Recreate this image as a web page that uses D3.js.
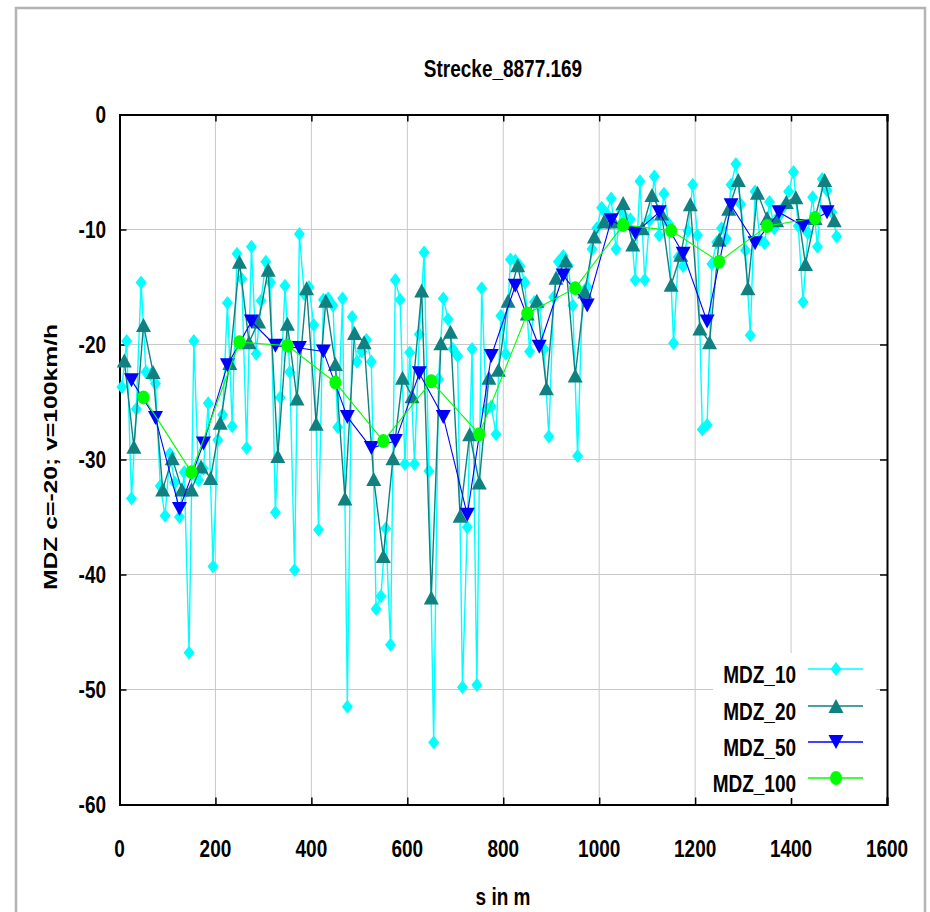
<!DOCTYPE html>
<html><head><meta charset="utf-8">
<script src="https://cdn.jsdelivr.net/npm/d3@7"></script>
<style>body{margin:0;background:#fff}svg text{font-family:"Liberation Sans",Arial,sans-serif;font-weight:bold;fill:#000}</style>
</head><body><svg id="c" width="930" height="912"></svg>
<script>
const title = "Strecke_8877.169";
const xLabel = "s in m";
const yLabel = "MDZ c=-20; v=100km/h";
const xTicks = [0,200,400,600,800,1000,1200,1400,1600];
const yTicks = [0,-10,-20,-30,-40,-50,-60];
const seriesNames = ["MDZ_10","MDZ_20","MDZ_50","MDZ_100"];

const dist10 = d3.range(5, 1500, 10);
const mdz10 = [-23.7,-19.7,-33.4,-25.6,-14.6,-22.4,-22.6,-23.4,-32.3,-34.9,
 -29.5,-32.0,-35.0,-31.1,-46.8,-19.7,-31.8,-30.8,-25.1,-39.3,
 -28.3,-26.1,-16.4,-27.1,-12.1,-14.3,-29.0,-11.5,-20.8,-16.2,
 -12.8,-14.6,-34.6,-24.6,-14.9,-22.4,-39.6,-10.4,-15.6,-15.0,
 -18.3,-36.1,-16.1,-16.0,-16.6,-27.2,-16.0,-51.5,-17.6,-21.5,
 -20.6,-19.6,-21.5,-43.0,-41.9,-36.0,-46.1,-14.4,-16.1,-30.4,
 -20.7,-30.4,-19.1,-12.0,-31.0,-54.6,-23.0,-16.0,-17.8,-20.4,
 -21.0,-49.8,-35.9,-20.4,-49.6,-15.1,-25.6,-25.4,-27.8,-17.5,
 -20.8,-12.6,-12.7,-13.2,-14.6,-20.6,-16.3,-16.6,-20.4,-28.0,
 -15.9,-12.8,-12.3,-13.1,-16.6,-29.7,-15.6,-15.0,-11.7,-9.9,
 -8.1,-8.6,-7.3,-11.7,-8.3,-9.0,-9.1,-14.4,-5.8,-14.4,
 -9.2,-5.4,-10.5,-6.9,-9.5,-19.9,-12.4,-13.2,-10.1,-6.1,
 -10.5,-27.4,-27.0,-13.0,-11.1,-9.9,-10.8,-6.1,-4.3,-7.8,
 -11.8,-19.2,-6.7,-10.9,-11.2,-7.6,-9.9,-8.8,-8.0,-6.7,
 -5.0,-9.7,-16.3,-10.3,-7.2,-11.5,-5.6,-6.6,-8.5,-10.6];

const dist20 = d3.range(10, 1500, 20);
const mdz20 = [-21.4,-28.9,-18.3,-22.4,-32.6,-29.9,-32.6,-32.6,-30.6,-31.6,
 -26.8,-21.6,-12.8,-19.8,-18.0,-13.5,-29.7,-18.2,-24.7,-15.1,
 -26.9,-16.2,-21.7,-33.4,-19.0,-19.8,-31.7,-38.4,-29.9,-22.9,
 -24.5,-15.3,-42.0,-19.9,-18.9,-34.9,-27.8,-32.0,-22.9,-22.2,
 -16.2,-13.1,-17.3,-16.2,-23.8,-14.2,-12.7,-22.7,-15.4,-10.6,
 -9.3,-9.3,-7.7,-11.3,-9.9,-7.0,-8.6,-14.8,-12.2,-7.8,
 -18.6,-19.8,-10.9,-8.2,-5.7,-15.1,-6.8,-9.0,-9.2,-7.6,
 -7.2,-13.0,-9.0,-5.7,-9.2];

const dist50 = d3.range(25, 1500, 50);
const mdz50 = [-23.1,-26.4,-34.3,-28.6,-21.8,-18.0,-20.1,-20.3,-20.6,-26.3,
 -29.0,-28.4,-22.5,-26.3,-34.8,-21.0,-14.9,-20.2,-14.0,-16.6,
 -9.2,-10.3,-8.5,-12.1,-18.0,-7.9,-11.2,-8.5,-9.7,-8.5];

const dist100 = d3.range(50, 1500, 100);
const mdz100 = [-24.6,-31.1,-19.8,-20.1,-23.3,-28.4,-23.2,-27.8,-17.3,-15.1,
 -9.6,-10.1,-12.8,-9.7,-9.0];

const svg = d3.select("#c");
const L = 119.5, R = 887, T = 114.5, B = 804.5;
const x = d3.scaleLinear().domain([0,1600]).range([L,R]);
const y = d3.scaleLinear().domain([0,-60]).range([T,B]);
const SY = 1.3;

// outer frame
svg.append("rect").attr("x",16).attr("y",8).attr("width",909).attr("height",915)
  .attr("fill","#fff").attr("stroke","#b4b4b4").attr("stroke-width",2.5);

// grid
const grid = svg.append("g").attr("stroke","#c8c8c8").attr("stroke-width",1);
xTicks.slice(1,-1).forEach(t=>grid.append("line").attr("x1",x(t)).attr("x2",x(t)).attr("y1",T).attr("y2",B));
yTicks.slice(1,-1).forEach(t=>grid.append("line").attr("x1",L).attr("x2",R).attr("y1",y(t)).attr("y2",y(t)));

// axes ticks (inward)
const tk = 7;
svg.append("g").attr("transform",`translate(0,${B})`).call(d3.axisTop(x).tickValues(xTicks).tickSize(tk).tickFormat(""));
svg.append("g").attr("transform",`translate(0,${T})`).call(d3.axisBottom(x).tickValues(xTicks).tickSize(tk).tickFormat(""));
svg.append("g").attr("transform",`translate(${L},0)`).call(d3.axisRight(y).tickValues(yTicks).tickSize(tk).tickFormat(""));
svg.append("g").attr("transform",`translate(${R},0)`).call(d3.axisLeft(y).tickValues(yTicks).tickSize(tk).tickFormat(""));
svg.selectAll(".domain").attr("stroke","#000").attr("stroke-width",2);
svg.selectAll(".tick line").attr("stroke","#000").attr("stroke-width",1.5);

function htext(px, py, str, anchor, size){
  return svg.append("text").attr("transform",`translate(${px},${py}) scale(1,${SY})`)
    .attr("text-anchor",anchor).attr("font-size",size).text(str);
}
// tick labels (plain hyphen minus as in the reference)
xTicks.forEach(t=>htext(x(t), 857, String(t), "middle", 19));
yTicks.forEach(t=>htext(106, y(t)+8.8, String(t), "end", 19));
// titles
htext(503, 77, title, "middle", 19);
htext(503, 905, xLabel, "middle", 19);
svg.append("text").attr("transform",`translate(57,457) rotate(-90) scale(${SY},1)`)
  .attr("text-anchor","middle").attr("font-size",19).text(yLabel);

// markers
const diamond = "M0,-7L5.5,0L0,7L-5.5,0Z";
const triUp = "M0,-7L7.5,7L-7.5,7Z";
const triDown = "M0,7L7.5,-7L-7.5,-7Z";
const series = [
  {name:seriesNames[0], d:dist10, v:mdz10, line:"#00ffff", fill:"#00ffff", lw:1.4, sym:diamond},
  {name:seriesNames[1], d:dist20, v:mdz20, line:"#108080", fill:"#108080", lw:1.4, sym:triUp},
  {name:seriesNames[2], d:dist50, v:mdz50, line:"#0000ff", fill:"#0000ff", lw:1.1, sym:triDown},
  {name:seriesNames[3], d:dist100, v:mdz100, line:"#00ff00", fill:"#00ff00", lw:1.1, sym:null}
];
const lineGen = d3.line().x(p=>x(p[0])).y(p=>y(p[1]));
const plot = svg.append("g");
function marker(g, s, px, py){
  if(s.sym) g.append("path").attr("d",s.sym).attr("transform",`translate(${px},${py})`).attr("fill",s.fill);
  else g.append("ellipse").attr("cx",px).attr("cy",py).attr("rx",6).attr("ry",7).attr("fill",s.fill);
}
series.forEach(s=>{
  const pts = s.d.map((d,i)=>[d,s.v[i]]);
  const g = plot.append("g");
  g.append("path").attr("d",lineGen(pts)).attr("fill","none").attr("stroke",s.line).attr("stroke-width",s.lw);
  pts.forEach(p=>marker(g, s, x(p[0]), y(p[1])));
});

// legend
const lg = svg.append("g");
lg.append("rect").attr("x",713).attr("y",653).attr("width",163).attr("height",145).attr("fill","#fff");
const rowY = [669,706,742,778];
series.forEach((s,i)=>{
  htext(796, rowY[i]+14, s.name, "end", 19);
  lg.append("line").attr("x1",808).attr("x2",863).attr("y1",rowY[i]).attr("y2",rowY[i]).attr("stroke",s.line).attr("stroke-width",s.lw+0.3);
  marker(lg, s, 836, rowY[i]);
});
</script></body></html>
